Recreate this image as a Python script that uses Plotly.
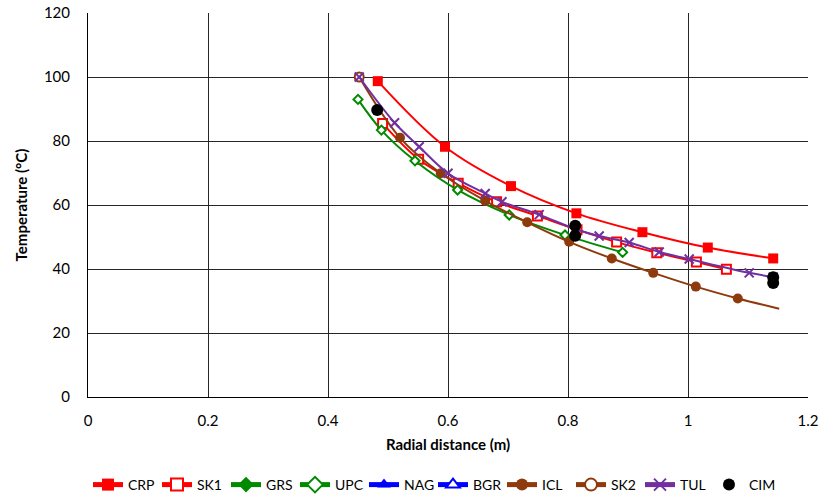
import plotly.graph_objects as go

# ---- data ----
crp_x = [0.483, 0.595, 0.705, 0.814, 0.924, 1.033, 1.142]
crp_y = [98.7, 78.2, 65.9, 57.4, 51.5, 46.7, 43.3]

sk1_x = [0.491, 0.551, 0.617, 0.681, 0.749, 0.815, 0.881, 0.948, 1.014, 1.064]
sk1_y = [85.5, 74.3, 66.8, 61.0, 56.6, 52.3, 48.4, 45.1, 42.2, 39.9]

grs_x = [None]
grs_y = [None]

upc_x = [0.450, 0.489, 0.545, 0.616, 0.702, 0.795, 0.891]
upc_y = [93.0, 83.4, 73.8, 64.7, 56.9, 50.6, 45.2]

nag_x = [None]
nag_y = [None]

bgr_x = [None]
bgr_y = [None]

icl_x = [0.452, 0.520, 0.588, 0.662, 0.732, 0.802, 0.873, 0.942, 1.013, 1.083, 1.152]
icl_y = [100.0, 81.0, 69.9, 61.3, 54.6, 48.5, 43.3, 38.8, 34.5, 30.8, 27.6]

sk2_x = [0.452]
sk2_y = [100.0]

tul_x = [0.452, 0.511, 0.552, 0.600, 0.662, 0.690, 0.752, 0.812, 0.852, 0.902, 0.952, 1.002, 1.102, 1.142]
tul_y = [100.0, 85.7, 78.2, 69.9, 63.6, 61.0, 57.0, 52.5, 50.3, 48.3, 45.3, 43.1, 38.8, 37.5]

cim_x = [0.482, 0.812, 0.812, 1.142, 1.142]
cim_y = [89.7, 53.5, 50.4, 37.4, 35.6]

RED = "#FF0000"
GREEN = "#008A00"
BLUE = "#0000FF"
BROWN = "#8E3A0C"
PURPLE = "#7030A0"

FONT = "Lato, Carlito, Calibri, sans-serif"

fig = go.Figure()

def add(name, x, y, color, symbol, size, filled=True, line=True, msizes=None):
    fig.add_trace(go.Scatter(
        x=x, y=y, name=name,
        mode="lines+markers" if line else "markers",
        line=dict(color=color, width=2, shape="spline", smoothing=1),
        marker=dict(
            symbol=symbol,
            size=msizes if msizes is not None else size,
            color=color if filled else "white",
            opacity=1,
            line=dict(color=color, width=0 if filled else 2),
        ),
        showlegend=True,
    ))

add("CRP", crp_x, crp_y, RED, "square", 10)
add("SK1", sk1_x, sk1_y, RED, "square", 9, filled=False)
add("GRS", grs_x, grs_y, GREEN, "diamond", 8)
add("UPC", upc_x, upc_y, GREEN, "diamond", 7, filled=False)
add("NAG", nag_x, nag_y, BLUE, "triangle-up", 9)
add("BGR", bgr_x, bgr_y, BLUE, "triangle-up", 8, filled=False)
icl_sizes = [10] * (len(icl_x) - 1) + [0]
add("ICL", icl_x, icl_y, BROWN, "circle", 10, msizes=icl_sizes)
add("SK2", sk2_x, sk2_y, BROWN, "circle", 9, filled=False)

fig.add_trace(go.Scatter(
    x=tul_x, y=tul_y, name="TUL", mode="lines+markers",
    line=dict(color=PURPLE, width=2, shape="spline", smoothing=1),
    marker=dict(symbol="x-thin", size=9, color=PURPLE, line=dict(color=PURPLE, width=2)),
))

fig.add_trace(go.Scatter(
    x=cim_x, y=cim_y, name="CIM", mode="markers",
    marker=dict(symbol="circle", size=12, color="black"),
))

axis_common = dict(
    showgrid=True, gridcolor="#262626", gridwidth=1,
    showline=True, linecolor="black", linewidth=1,
    zeroline=False, ticks="", mirror=False, automargin=False,
    tickfont=dict(family=FONT, size=15, color="black"),
)

fig.update_xaxes(
    range=[0, 1.2], dtick=0.2, tick0=0, ticklabelstandoff=10,
    title=dict(text="<b>Radial distance (m)</b>", font=dict(family=FONT, size=15, color="black"), standoff=11),
    **axis_common,
)
fig.update_yaxes(
    range=[0, 120], dtick=20, tick0=0, ticklabelstandoff=14,
    title=dict(text="<b>Temperature (°C)</b>", font=dict(family=FONT, size=15, color="black"), standoff=12),
    **axis_common,
)

fig.update_layout(
    width=823, height=496,
    margin=dict(l=88, r=15, t=13, b=99, autoexpand=False),
    paper_bgcolor="white", plot_bgcolor="white",
    showlegend=True,
    legend=dict(
        orientation="h", x=0.0, xanchor="left",
        yref="container", y=1 - 485 / 496, yanchor="middle",
        font=dict(family=FONT, size=14, color="black"),
        entrywidth=24, entrywidthmode="pixels", tracegroupgap=0,
        itemsizing="constant",
    ),
)

fig.write_html("out.html")
